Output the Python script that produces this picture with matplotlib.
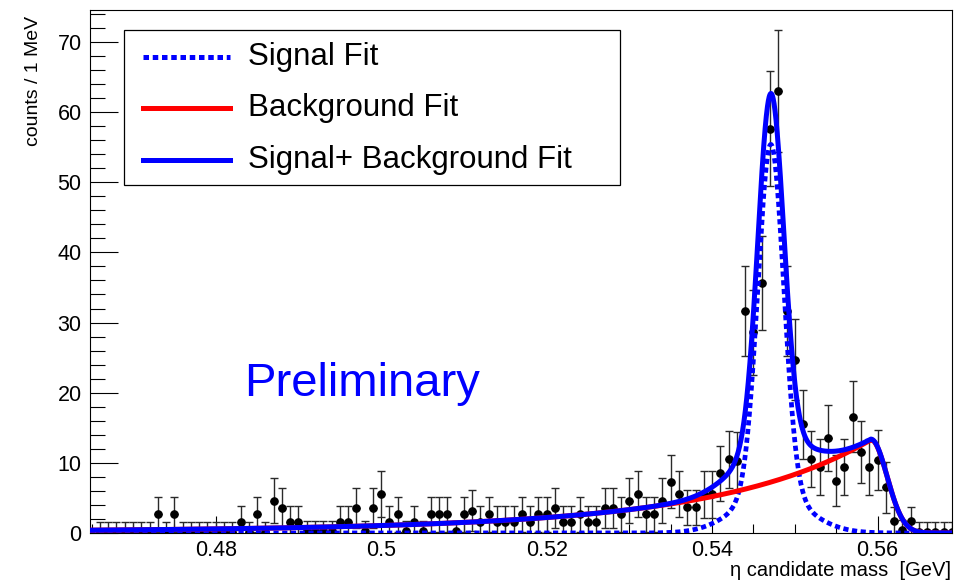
import numpy as np
import matplotlib.pyplot as plt
from matplotlib.patches import Rectangle
from matplotlib.lines import Line2D
from matplotlib.ticker import MultipleLocator

plt.rcParams['font.family'] = ['Liberation Sans', 'DejaVu Sans']

# eta candidate mass histogram, 1 MeV bins (centres in GeV)
bin_lo = 0.466
bin_width = 0.001
counts = [
    0.2, 0.2, 0.2, 0.2, 0.2, 0.2, 0.2, 2.67, 0.2, 2.67,
    0.2, 0.2, 0.2, 0.2, 0.2, 0.2, 0.2, 1.6, 0.2, 2.67,
    0.2, 4.6, 3.56, 1.6, 1.6, 0.3, 0.3, 0.3, 0.3, 1.6,
    1.6, 3.56, 0.3, 3.56, 5.56, 1.6, 2.67, 0.3, 1.6, 0.3,
    2.67, 2.67, 2.67, 0.3, 2.67, 3.18, 1.6, 2.67, 1.6, 1.6,
    1.6, 2.67, 1.6, 2.67, 2.67, 3.56, 1.6, 1.6, 2.67, 1.6,
    1.6, 3.56, 3.56, 2.67, 4.61, 5.56, 2.67, 2.67, 4.61, 7.32,
    5.6, 3.66, 3.66, 5.5, 5.5, 8.5, 10.5, 10.3, 31.6, 28.6,
    35.6, 57.6, 63.0, 31.6, 24.7, 15.5, 10.5, 9.45, 13.6, 7.45,
    9.45, 16.6, 11.5, 9.45, 10.4, 6.5, 1.7, 0.4, 1.7, 0.2,
    0.2, 0.2, 0.2, 0.2,
]
errors = [
    1.4, 1.4, 1.4, 1.4, 1.4, 1.4, 1.4, 2.5, 1.4, 2.5,
    1.4, 1.4, 1.4, 1.4, 1.4, 1.4, 1.4, 2.2, 1.4, 2.5,
    1.4, 3.2, 2.8, 2.2, 2.2, 1.4, 1.4, 1.4, 1.4, 2.2,
    2.2, 2.8, 1.4, 2.8, 3.3, 2.2, 2.5, 1.4, 2.2, 1.4,
    2.5, 2.5, 2.5, 1.4, 2.5, 2.95, 2.2, 2.5, 2.2, 2.2,
    2.2, 2.5, 2.2, 2.5, 2.5, 2.8, 2.2, 2.2, 2.5, 2.2,
    2.2, 2.8, 2.8, 2.5, 3.2, 3.3, 2.5, 2.5, 3.2, 3.8,
    3.3, 2.5, 2.5, 3.3, 3.3, 3.9, 4.1, 4.1, 6.4, 6.1,
    6.7, 8.2, 8.7, 6.4, 5.8, 4.9, 4.0, 4.0, 4.7, 3.6,
    4.0, 5.0, 4.4, 4.0, 4.3, 3.6, 2.0, 1.4, 2.0, 1.4,
    1.4, 1.4, 1.4, 1.4,
]
mass = bin_lo + bin_width * np.arange(len(counts))

# fit results: double gaussian signal + exponential background with endpoint
sig_mean = 0.5471
sig_core_amp, sig_core_width = 49.8, 0.00155
sig_tail_amp, sig_tail_width = 5.6, 0.0042
bkg_edge, bkg_amp = 0.5592, 13.3
bkg_slope, bkg_curv = 52.0, 157.5
bkg_falloff = 0.00195


def signal(m):
    d = m - sig_mean
    return (sig_core_amp * np.exp(-0.5 * (d / sig_core_width) ** 2)
            + sig_tail_amp * np.exp(-0.5 * (d / sig_tail_width) ** 2))


def background(m):
    d = m - bkg_edge
    rise = bkg_amp * np.exp(bkg_slope * d + bkg_curv * d ** 2)
    drop = bkg_amp * np.exp(-0.5 * (d / bkg_falloff) ** 2)
    return np.where(d < 0, rise, drop)


x_min, x_max = 0.4648, 0.5690
mm = np.linspace(x_min, x_max, 3000)

fig = plt.figure(figsize=(9.55, 5.81), dpi=100)
ax = fig.add_axes([90 / 955, 48 / 581, 862 / 955, 522.6 / 581])

# data points
ax.errorbar(mass, counts, yerr=errors, fmt='none', ecolor='#2a2a2a',
            elinewidth=1.0, capsize=2.6, capthick=1.0, zorder=2)
ax.errorbar(mass, counts, xerr=0.00045, fmt='o', color='black', ms=5.2,
            elinewidth=1.0, capsize=0, zorder=3)

# fit curves
ax.plot(mm, signal(mm), color='#0000ff', lw=3.4, ls=(0, (1.1, 0.75)),
        dash_capstyle='butt', zorder=4)
ax.plot(mm, background(mm), color='#ff0000', lw=3.6, zorder=5)
ax.plot(mm, signal(mm) + background(mm), color='#0000ff', lw=3.6, zorder=6)

ax.set_xlim(x_min, x_max)
ax.set_ylim(0, 74.5)

ax.xaxis.set_minor_locator(MultipleLocator(0.005))
ax.yaxis.set_major_locator(MultipleLocator(10))
ax.yaxis.set_minor_locator(MultipleLocator(2))
ax.set_xticks([0.48, 0.50, 0.52, 0.54, 0.56])
ax.set_xticklabels(['0.48', '0.5', '0.52', '0.54', '0.56'])

ax.tick_params(axis='x', which='major', direction='in', length=12.5,
               width=0.8, labelsize=15.5, pad=5, top=False)
ax.tick_params(axis='x', which='minor', direction='in', length=6.2,
               width=0.8, top=False)
ax.tick_params(axis='y', which='major', direction='in', length=20,
               width=0.8, labelsize=15.5, pad=6, right=False)
ax.tick_params(axis='y', which='minor', direction='in', length=10.5,
               width=0.8, right=False)
for s in ax.spines.values():
    s.set_linewidth(0.8)

ax.set_xlabel('η candidate mass  [GeV]', fontsize=14.5, ha='right')
ax.xaxis.set_label_coords(0.999, -0.053)
ax.set_ylabel('counts / 1 MeV', fontsize=14, ha='right', va='center')
ax.yaxis.set_label_coords(-0.066, 0.99)

ax.text(0.4834, 19.5, 'Preliminary', color='#0000ff', fontsize=34,
        ha='left', va='baseline')

# legend box
ax.add_patch(Rectangle((0.0394, 0.6659), 0.5755, 0.2966, transform=ax.transAxes,
                       facecolor='white', edgecolor='black', lw=0.9, zorder=8))
entries = [
    ('Signal Fit', '#0000ff', (0, (1.1, 0.75)), 0.9108),
    ('Background Fit', '#ff0000', '-', 0.8132),
    ('Signal+ Background Fit', '#0000ff', '-', 0.7137),
]
for label, col, style, yy in entries:
    ax.add_line(Line2D([0.0615, 0.1624], [yy, yy], transform=ax.transAxes,
                       color=col, lw=3.6, ls=style, dash_capstyle='butt',
                       zorder=9))
    ax.text(0.1833, yy, label, transform=ax.transAxes, fontsize=22.5,
            ha='left', va='center', zorder=9)

fig.savefig('out.png', dpi=100)
